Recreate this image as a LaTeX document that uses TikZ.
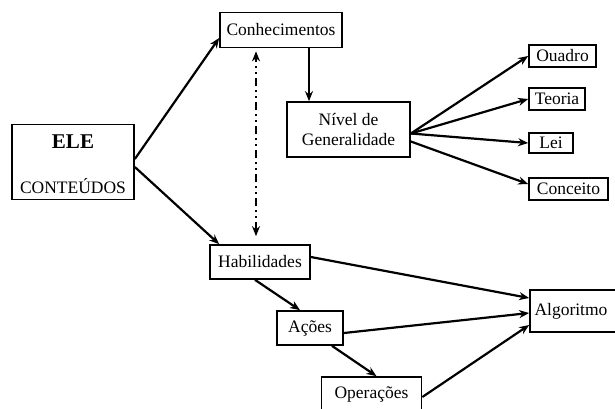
\documentclass[tikz,border=0pt]{standalone}
\usepackage{fontspec}
\setmainfont{Liberation Serif}
\usetikzlibrary{arrows.meta}
\usetikzlibrary{calc}

\begin{document}
\begin{tikzpicture}[%
        x = 1pt,
        y = -1pt,
        draw = black,
        line width = 1.7pt,
        >={Stealth[length=10pt,width=8pt]},
        caixa/.style = {draw, fill = white, inner sep = 0pt, align = center,
                        font = \fontsize{17.5}{20}\selectfont},
        ligacao/.style = {->, line width = 2.2pt},
        ]

\useasboundingbox[] (0,0) rectangle (615,408);


\node (ele) [caixa, minimum width = 122pt, minimum height = 75pt] at (73,162)
    {\rule{0pt}{19pt}{\fontsize{21}{22}\selectfont\bfseries ELE}\\[25pt]CONTEÚDOS};

\node (conh) [caixa, minimum width = 122pt, minimum height = 35pt] at (281,30)
    {Conhecimentos};
\node (niv) [caixa, minimum width = 123pt, minimum height = 55pt] at (348.5,129.5)
    {Nível de\\Generalidade};


\node (ouadro) [caixa, minimum width = 67pt, minimum height = 22pt] at (562.5,56) {Ouadro};
\node (teoria) [caixa, minimum width = 56pt, minimum height = 22pt] at (557,99) {Teoria};
\node (lei) [caixa, minimum width = 44pt, minimum height = 20pt] at (551,143) {Lei};
\node (conceito) [caixa, minimum width = 79pt, minimum height = 22pt] at (568.5,189) {Conceito};


\node (hab) [caixa, minimum width = 100pt, minimum height = 34pt] at (260,262) {Habilidades};
\node (acoes) [caixa, minimum width = 66pt, minimum height = 34pt] at (310,328) {Ações};
\node (ope) [caixa, minimum width = 100pt, minimum height = 34pt] at (371.5,394) {Operações};
\node (alg) [caixa, minimum width = 90pt, minimum height = 42pt] at (575,311) {Algoritmo\hspace*{8pt}};


\draw[ligacao] ([yshift=3pt]ele.east) -- ([yshift=-8pt]conh.west);
\draw[ligacao] ([yshift=-5pt]ele.east) -- ([xshift=10pt]hab.north west);

\draw[ligacao] ([xshift=28pt]conh.south) -- ([xshift=28pt]conh.south |- niv.north);

\draw[<->, line width = 1.8pt, shorten <= 8pt, shorten >= 3pt,
      dash pattern = on 8pt off 4pt on 2pt off 4pt on 2pt off 4pt]
    ([xshift=-4pt]hab.north) -- ([xshift=-4pt]hab.north |- conh.south);

\foreach \ALVO in {ouadro,teoria,lei}{
    \draw[ligacao] ([yshift=-4pt]niv.east) -- (\ALVO.west);
    }
\draw[ligacao] ([yshift=-12pt]niv.east) -- ([yshift=5pt]conceito.west);

\draw[ligacao] ([yshift=5pt]hab.east) -- ([yshift=13pt]alg.west);
\draw[ligacao] ([xshift=-5pt]hab.south) -- ([xshift=-10pt]acoes.north);
\draw[ligacao] ([yshift=-5pt]acoes.east) -- ([yshift=-2pt]alg.west);
\draw[ligacao] ([xshift=22pt]acoes.south) -- ([xshift=5pt]ope.north);
\draw[ligacao] ([yshift=-3pt]ope.east) -- ([yshift=-14pt]alg.west);


\end{tikzpicture}
\end{document}
